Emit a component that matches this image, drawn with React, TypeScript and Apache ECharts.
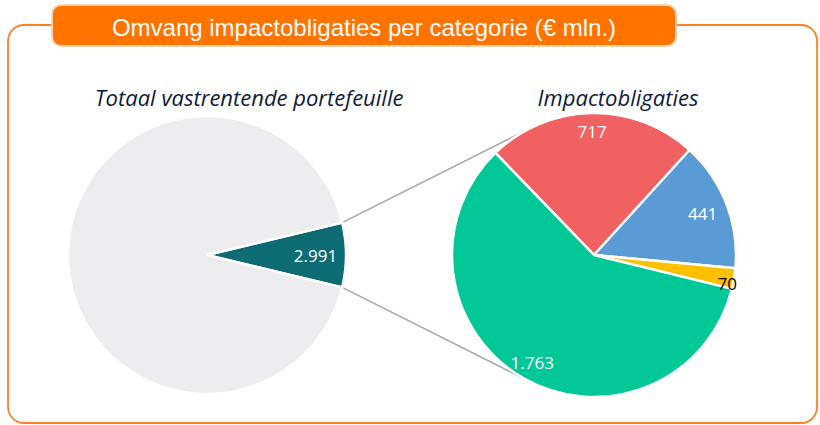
import React, { useEffect, useRef } from "react";
import * as echarts from "echarts";

const title = "Omvang impactobligaties per categorie (€ mln.)";
const leftTitle = "Totaal vastrentende portefeuille";
const rightTitle = "Impactobligaties";

const leftNames = ["Impactobligaties", "Overig vastrentend"];
const leftValues = [2991, 37000];
const leftColors = ["#0D6B73", "#EDEDEF"];
const leftLabelShown = [true, false];

const rightNames = ["Categorie A", "Categorie B", "Categorie C", "Categorie D"];
const rightValues = [717, 441, 70, 1763];
const rightColors = ["#F26161", "#5B9BD5", "#FFC000", "#02C797"];
const rightLabelColors = ["#FFFFFF", "#FFFFFF", "#000000", "#FFFFFF"];

const fmt = (v: number) => v.toLocaleString("de-DE");

export default function App() {
  const ref = useRef<HTMLDivElement>(null);
  useEffect(() => {
    if (!ref.current) return;
    const chart = echarts.init(ref.current, null, { renderer: "svg" });

    const cxL = 207, cyL = 255, rL = 139;
    const cxR = 594, cyR = 255, rR = 142;
    const totalL = leftValues.reduce((a, b) => a + b, 0);
    const halfSpan = (leftValues[0] / totalL) * 180; // degrees
    const th = (halfSpan * Math.PI) / 180;

    // tangent connector lines
    const mkTangent = (px: number, py: number, upper: boolean) => {
      const dx = cxR - px, dy = cyR - py;
      const d = Math.sqrt(dx * dx + dy * dy);
      const phi = Math.atan2(dy, dx);
      const a = Math.asin(rR / d);
      const dir = upper ? phi - a : phi + a;
      const L = Math.sqrt(d * d - rR * rR);
      return [px, py, px + L * Math.cos(dir), py + L * Math.sin(dir)];
    };
    const pTop = [cxL + rL * Math.cos(th), cyL - rL * Math.sin(th)];
    const pBot = [cxL + rL * Math.cos(th), cyL + rL * Math.sin(th)];
    const t1 = mkTangent(pTop[0], pTop[1], true);
    const t2 = mkTangent(pBot[0], pBot[1], false);

    const labelFont = { fontFamily: "Open Sans", fontSize: 17 };

    const leftData = leftValues.map((v, i) => ({
      name: leftNames[i],
      value: v,
      itemStyle: { color: leftColors[i] },
    }));
    const leftLabelData = leftValues.map((v, i) => ({
      name: leftNames[i],
      value: v,
      label: { show: leftLabelShown[i] },
    }));
    const rightData = rightValues.map((v, i) => ({
      name: rightNames[i],
      value: v,
      itemStyle: { color: rightColors[i] },
    }));
    const rightOffsets: number[][] = [[0, 0], [-7, 3], [11, 8], [0, 0]];
    const rightLabelData = rightValues.map((v, i) => ({
      name: rightNames[i],
      value: v,
      label: { color: rightLabelColors[i], offset: rightOffsets[i] },
    }));

    const overlayBase = {
      type: "pie" as const,
      silent: true,
      clockwise: true,
      itemStyle: { color: "rgba(0,0,0,0)", borderWidth: 0 },
      labelLine: { show: false },
      emphasis: { disabled: true },
      z: 5,
    };

    chart.setOption({
      animation: false,
      graphic: [
        {
          type: "rect",
          z: 0,
          shape: { x: 8, y: 25, width: 809, height: 398, r: 16 },
          style: { fill: "none", stroke: "#FF7F27", lineWidth: 1.8 },
        },
        {
          type: "rect",
          z: 1,
          shape: { x: 52, y: 5, width: 624, height: 41, r: 9 },
          style: { fill: "#FF7300", stroke: "#FCD3AD", lineWidth: 2 },
        },
        {
          type: "text",
          z: 2,
          x: 364,
          y: 27,
          style: {
            text: title,
            fill: "#FFFFFF",
            font: '24px "Liberation Sans", Arial, sans-serif',
            align: "center",
            verticalAlign: "middle",
          },
        },
        {
          type: "text",
          x: 249,
          y: 97,
          style: {
            text: leftTitle,
            fill: "#0D1B3E",
            font: 'italic 22px "Open Sans", sans-serif',
            align: "center",
            verticalAlign: "middle",
          },
        },
        {
          type: "text",
          x: 618,
          y: 97,
          style: {
            text: rightTitle,
            fill: "#0D1B3E",
            font: 'italic 22px "Open Sans", sans-serif',
            align: "center",
            verticalAlign: "middle",
          },
        },
        {
          type: "line",
          z: 0,
          shape: { x1: t1[0], y1: t1[1], x2: t1[2], y2: t1[3] },
          style: { stroke: "#A6A6A6", lineWidth: 1.5 },
        },
        {
          type: "line",
          z: 0,
          shape: { x1: t2[0], y1: t2[1], x2: t2[2], y2: t2[3] },
          style: { stroke: "#A6A6A6", lineWidth: 1.5 },
        },
      ],
      series: [
        {
          type: "pie",
          center: [cxL, cyL],
          radius: [0, rL],
          startAngle: halfSpan,
          clockwise: true,
          data: leftData,
          label: { show: false },
          labelLine: { show: false },
          itemStyle: { borderColor: "#FFFFFF", borderWidth: 2.5 },
          emphasis: { disabled: true },
          z: 2,
        },
        {
          ...overlayBase,
          center: [cxL, cyL],
          radius: [72, rL],
          startAngle: halfSpan,
          data: leftLabelData,
          label: {
            position: "inside",
            color: "#FFFFFF",
            ...labelFont,
            formatter: (p: any) => fmt(p.value),
          },
        },
        {
          type: "pie",
          center: [cxR, cyR],
          radius: [0, rR],
          startAngle: 134,
          clockwise: true,
          data: rightData,
          label: { show: false },
          labelLine: { show: false },
          itemStyle: { borderColor: "#FFFFFF", borderWidth: 2.5 },
          emphasis: { disabled: true },
          z: 2,
        },
        {
          ...overlayBase,
          center: [cxR, cyR],
          radius: [100, rR],
          startAngle: 134,
          data: rightLabelData,
          label: {
            position: "inside",
            ...labelFont,
            formatter: (p: any) => fmt(p.value),
          },
        },
      ],
    });
    return () => chart.dispose();
  }, []);
  return (
    <div
      ref={ref}
      style={{ position: "absolute", left: 0, top: 0, width: 820, height: 425, background: "#FFFFFF" }}
    />
  );
}
